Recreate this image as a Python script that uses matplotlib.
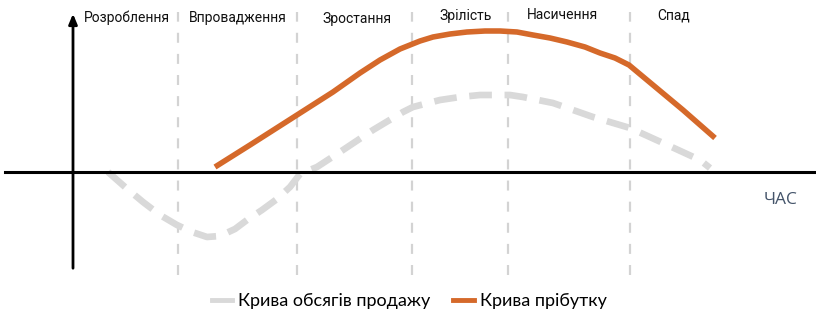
import matplotlib
matplotlib.use("Agg")
import matplotlib.pyplot as plt
from matplotlib.lines import Line2D

W, H = 816, 315

# Stage names and boundaries (time axis, pixel-like units)
stages = ["Розроблення", "Впровадження", "Зростання", "Зрілість", "Насичення", "Спад"]
stage_centers = [127, 238, 357, 466, 562, 674]
stage_label_y = [297, 297, 296, 299, 300, 299]
boundaries = [178, 297, 412, 508, 630]

# Profit curve (time, value)
profit_t = [215, 250, 297, 333, 360, 380, 400, 420, 433, 450, 467, 485, 500, 517, 533, 550, 567, 585, 600, 615, 629, 653, 683, 715]
profit_v = [148, 170, 200, 223, 242, 255, 266, 274, 278, 281, 283, 284, 284, 283, 280, 277, 273, 268, 262, 257, 250, 230, 205, 177]

# Sales volume curve (time, value)
sales_t = [108, 125, 143, 160, 177, 192, 207, 220, 235, 247, 262, 277, 290, 300, 317, 340, 373, 403, 413, 440, 460, 480, 510, 523, 553, 593, 630, 663, 700, 710]
sales_v = [143, 128, 113, 100, 90, 83, 78, 79, 86, 95, 105, 116, 128, 141, 148, 163, 185, 203, 208, 215, 218, 220, 220, 218, 212, 198, 187, 172, 155, 147]

baseline = 143
legend_labels = ["Крива обсягів продажу", "Крива прібутку"]

fig = plt.figure(figsize=(W / 100, H / 100), dpi=100)
ax = fig.add_axes([0, 0, 1, 1])
ax.set_xlim(0, W)
ax.set_ylim(0, H)
ax.axis("off")

# stage dividers
for b in boundaries:
    ax.plot([b, b], [40, 303], color="#d3d3d3", lw=1.6, ls=(0, (4.5, 5)), zorder=1)

# baseline (time axis)
ax.plot([5, W], [baseline, baseline], color="black", lw=2.2, zorder=3)
# vertical axis with arrow
ax.annotate("", xy=(73, 304), xytext=(73, 44),
            arrowprops=dict(arrowstyle="-|>,head_length=0.6,head_width=0.25",
                            color="black", lw=2), zorder=3)

# curves
ax.plot(sales_t, sales_v, color="#d9d9d9", lw=4.8, ls=(0, (3.4, 1.9)),
        solid_capstyle="butt", dash_capstyle="butt", solid_joinstyle="round", zorder=2)
ax.plot(profit_t, profit_v, color="#d5692a", lw=4.0, solid_capstyle="butt",
        solid_joinstyle="round", zorder=4)

# stage labels
for name, cx, cy in zip(stages, stage_centers, stage_label_y):
    ax.text(cx, cy, name, ha="center", va="center", fontsize=10,
            family="Roboto", color="#111111")

ax.text(781, 115, "ЧАС", ha="center", va="center", fontsize=12.5,
        family="Open Sans", color="#44546a")

handles = [Line2D([], [], color="#d9d9d9", lw=3.5),
           Line2D([], [], color="#d5692a", lw=3.5)]
fig.legend(handles, legend_labels, loc="center", bbox_to_anchor=(409 / W, 1 - 301 / H),
           ncol=2, frameon=False, handlelength=1.15, handletextpad=0.3,
           columnspacing=1.3, prop={"family": "Lato", "size": 13})

fig.savefig("out.png", dpi=100)
